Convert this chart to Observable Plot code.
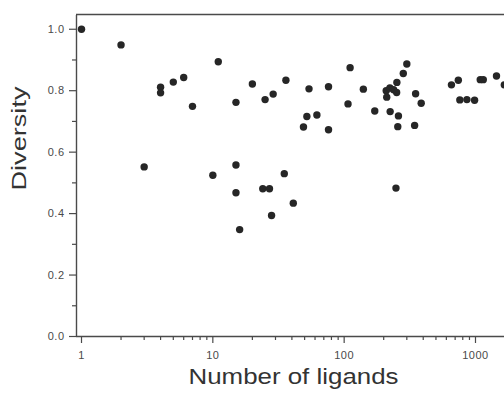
<!DOCTYPE html>
<html>
<head>
<meta charset="utf-8">
<script src="https://cdn.jsdelivr.net/npm/d3@7"></script>
<script src="https://cdn.jsdelivr.net/npm/@observablehq/plot@0.6"></script>
<style>
  html, body { margin: 0; padding: 0; background: #fff; }
  svg { display: block; }
  g[aria-label="x-axis tick label"], g[aria-label="y-axis tick label"] { letter-spacing: 0.5px; }
</style>
</head>
<body>
<div id="chart"></div>
<script>
// Data
const ligands = [1, 2, 3, 4, 4, 5, 6, 7, 10, 11, 15, 15, 15, 16, 20, 24, 27, 25, 28.8, 28,
  35, 36, 41, 49, 52, 54, 62, 76, 76, 107, 111, 140, 171, 209, 211, 223, 224, 238, 248, 251,
  252, 256, 259, 282, 300, 344, 350, 386, 656, 740, 760, 860, 984, 1087, 1146, 1445, 1657];
const diversity = [1.0, 0.949, 0.552, 0.811, 0.793, 0.828, 0.843, 0.749, 0.525, 0.894, 0.762, 0.558, 0.468, 0.348, 0.822, 0.481, 0.481, 0.771, 0.789, 0.394,
  0.530, 0.834, 0.434, 0.682, 0.716, 0.806, 0.721, 0.813, 0.673, 0.757, 0.875, 0.805, 0.734, 0.800, 0.779, 0.809, 0.732, 0.803, 0.483, 0.794,
  0.827, 0.683, 0.718, 0.856, 0.887, 0.687, 0.790, 0.759, 0.819, 0.834, 0.770, 0.771, 0.769, 0.836, 0.836, 0.848, 0.819];

const xDomain = [0.916, 1663];
const yDomain = [0, 1.048];
const xMajorTicks = [1, 10, 100, 1000];
const xMinorTicks = [2, 3, 4, 5, 6, 7, 8, 9, 20, 30, 40, 50, 60, 70, 80, 90, 200, 300, 400, 500, 600, 700, 800, 900];
const yMajorTicks = [0, 0.2, 0.4, 0.6, 0.8, 1.0];
const yMinorTicks = [0.1, 0.3, 0.5, 0.7, 0.9];
const xTitle = "Number of ligands";
const yTitle = "Diversity";

const data = ligands.map((x, i) => ({x, y: diversity[i]}));

const axisColor = "#4a4a4a";
const labelColor = "#4a4a4a";

const chart = Plot.plot({
  width: 504,
  height: 396,
  marginLeft: 76,
  marginRight: 0,
  marginTop: 14,
  marginBottom: 60,
  style: {fontFamily: "'Liberation Sans', Arial, sans-serif", background: "#fff"},
  x: {type: "log", domain: xDomain, axis: null},
  y: {domain: yDomain, axis: null},
  marks: [
    // frame lines
    Plot.ruleY([yDomain[1]], {stroke: axisColor, strokeWidth: 1.4}),
    Plot.ruleY([yDomain[0]], {stroke: axisColor, strokeWidth: 1.4}),
    Plot.ruleX([xDomain[0]], {stroke: axisColor, strokeWidth: 1.4, y1: yDomain[0], y2: yDomain[1], insetBottom: -1}),
    // x axis
    Plot.axisX({ticks: xMajorTicks, tickSize: 7, tickPadding: 8, tickFormat: d => String(d), fontSize: 11, color: labelColor, stroke: axisColor, strokeWidth: 1.2, label: null}),
    Plot.axisX({ticks: xMinorTicks, tickSize: 4, text: null, stroke: axisColor, strokeWidth: 1.2, label: null}),
    // y axis
    Plot.axisY({ticks: yMajorTicks, tickSize: 7, tickPadding: 5, tickFormat: d3.format(".1f"), fontSize: 11, color: labelColor, stroke: axisColor, strokeWidth: 1.2, label: null}),
    Plot.axisY({ticks: yMinorTicks, tickSize: 4, text: null, stroke: axisColor, strokeWidth: 1.2, label: null}),
    // points
    Plot.dot(data, {x: "x", y: "y", r: 3.7, fill: "#262626", stroke: "none"}),
    // titles
    Plot.text([xTitle], {frameAnchor: "bottom", dx: 3, dy: 47, fontSize: 22, fill: "#333", className: "xtitle"}),
    Plot.text([yTitle], {frameAnchor: "left", dx: -57, dy: 15, rotate: -90, fontSize: 20, fill: "#333", className: "ytitle"})
  ]
});

document.getElementById("chart").appendChild(chart);
d3.select(chart).selectAll(".xtitle text").attr("textLength", 210).attr("lengthAdjust", "spacingAndGlyphs");
d3.select(chart).selectAll(".ytitle text").attr("textLength", 104).attr("lengthAdjust", "spacingAndGlyphs");
</script>
</body>
</html>
